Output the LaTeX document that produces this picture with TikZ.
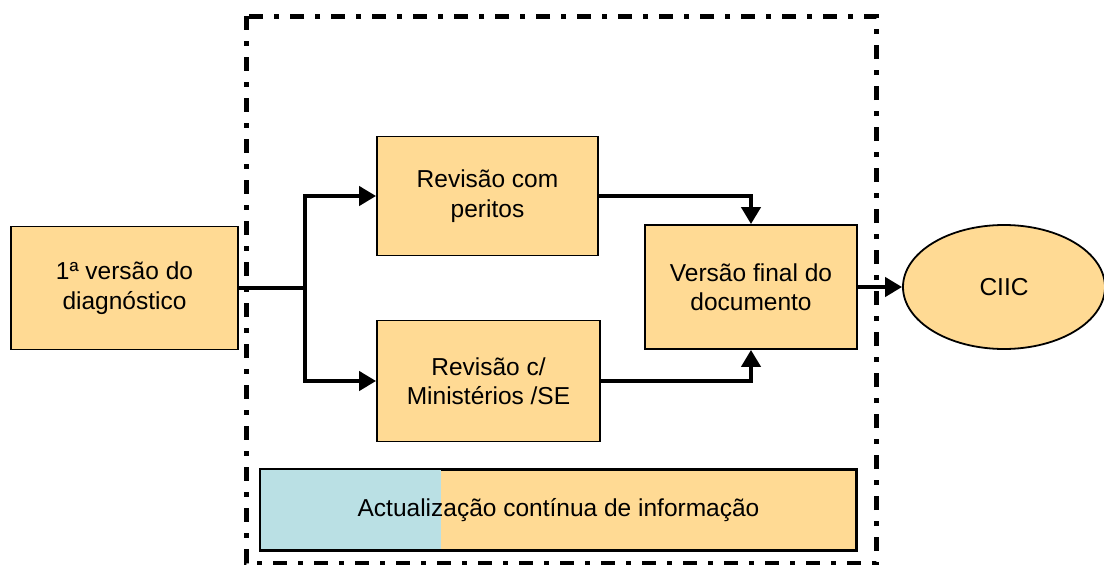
\documentclass[tikz,border=0pt]{standalone}
\usepackage{fontspec}
\setmainfont{Liberation Sans}
\usepackage{tikz}
\usetikzlibrary{arrows.meta,shapes.geometric}
\usepackage{xcolor}
\definecolor{boxorange}{RGB}{255,218,148}
\definecolor{barblue}{RGB}{186,224,228}
\begin{document}
\begin{tikzpicture}[x=1pt, y=-1pt,
  every node/.style={font=\fontsize{24.5}{29.4}\selectfont, align=center, inner sep=0pt},
  etapa/.style={draw, line width=1.8pt, fill=boxorange},
  liga/.style={line width=4pt},
  seta/.style={liga, -{Triangle[length=17pt,width=19pt]}}]
\useasboundingbox (0,0) rectangle (1104,565);
\draw[line width=5pt, dash pattern=on 14pt off 11pt on 5pt off 11pt] (246,16) rectangle (876,563);
\node[etapa, minimum width=227pt, minimum height=123pt] (versao) at (124.5,288) {1ª versão do\\diagnóstico};
\node[etapa, minimum width=221pt, minimum height=119pt] (peritos) at (487.5,196) {Revisão com\\peritos};
\node[etapa, minimum width=223pt, minimum height=121pt] (minist) at (488.5,381) {Revisão c/\\Ministérios /SE};
\node[etapa, minimum width=212pt, minimum height=124pt] (final) at (751,287) {Versão final do\\documento};
\node[etapa, ellipse, minimum width=202pt, minimum height=124pt] (ciic) at (1004,287) {CIIC};
\node[etapa, minimum width=595pt, minimum height=80pt] (actual) at (558.5,510) {};
\fill[barblue] (actual.north west) ++(0.9pt,0.9pt) rectangle (441,549.1);
\draw[line width=1.8pt] (actual.north west) rectangle (actual.south east);
\node at (actual.center) {Actualização contínua de informação};
\coordinate (hub) at (305,288);
\draw[liga] (versao.east) -- (hub);
\draw[seta] (hub) |- (peritos.west);
\draw[seta] (hub) |- (minist.west);
\draw[seta] (peritos.east) -| (final.north);
\draw[seta] (minist.east) -| (final.south);
\draw[seta] (final.east) -- (ciic.west);
\end{tikzpicture}
\end{document}
